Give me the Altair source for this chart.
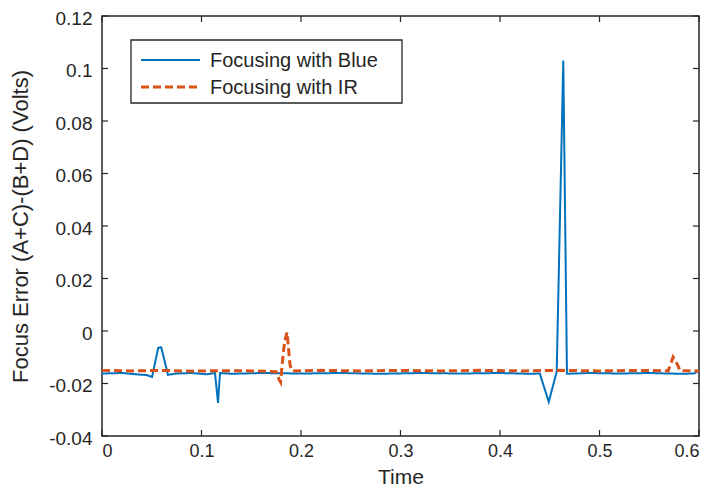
import altair as alt
import pandas as pd

blue_t = [0.0, 0.02, 0.035, 0.045, 0.0503, 0.0565, 0.0595, 0.0633, 0.0663, 0.075, 0.09, 0.105,
          0.1136, 0.1166, 0.1186, 0.13, 0.16, 0.2, 0.24, 0.28, 0.32, 0.36, 0.4, 0.43,
          0.440, 0.449, 0.457, 0.4636, 0.4673, 0.49, 0.52, 0.55, 0.58, 0.595, 0.6]
blue_v = [-0.0162, -0.0160, -0.0165, -0.0168, -0.0175, -0.0064, -0.0062, -0.0120, -0.0167, -0.0162,
          -0.0160, -0.0165, -0.0160, -0.0274, -0.0160, -0.0163, -0.0160, -0.0162, -0.0160, -0.0163,
          -0.0160, -0.0162, -0.0160, -0.0163, -0.0162, -0.0270, -0.0155, 0.1030, -0.0163, -0.0160,
          -0.0162, -0.0160, -0.0163, -0.0162, -0.0150]

ir_t = [0.0, 0.03, 0.06, 0.09, 0.12, 0.15, 0.175, 0.178, 0.1795, 0.181, 0.1835, 0.186, 0.1875,
        0.189, 0.191, 0.22, 0.26, 0.3, 0.34, 0.38, 0.42, 0.46, 0.5, 0.54, 0.569, 0.574, 0.578,
        0.581, 0.59, 0.6]
ir_v = [-0.0150, -0.0152, -0.0150, -0.0153, -0.0151, -0.0152, -0.0155, -0.0185, -0.0195, -0.0130,
        -0.0040, -0.0005, -0.0070, -0.0130, -0.0152, -0.0150, -0.0152, -0.0150, -0.0152, -0.0150,
        -0.0152, -0.0150, -0.0152, -0.0150, -0.0152, -0.0099, -0.0125, -0.0152, -0.0151, -0.0152]

series = ["Focusing with Blue", "Focusing with IR"]
colors = ["#0072BD", "#D95319"]
dashes = [[1, 0], [8, 4]]
widths = [2, 3]
x_ticks = [0, 0.1, 0.2, 0.3, 0.4, 0.5, 0.6]
y_ticks = [-0.04, -0.02, 0, 0.02, 0.04, 0.06, 0.08, 0.1, 0.12]

W, H = 597, 420
FONT = "Liberation Sans"
INK = "#262626"

df = pd.concat([
    pd.DataFrame({"t": blue_t, "v": blue_v, "s": series[0]}),
    pd.DataFrame({"t": ir_t, "v": ir_v, "s": series[1]}),
])

xs = alt.Scale(domain=[0, 0.6], nice=False, zero=False)
ys = alt.Scale(domain=[-0.04, 0.12], nice=False, zero=False)

lines = alt.Chart(df).mark_line().encode(
    x=alt.X("t:Q", scale=xs, title="Time",
            axis=alt.Axis(values=x_ticks, ticks=False, domain=False, grid=False,
                          labelPadding=6, labelFontSize=18, format="~g",
                          titleFontSize=21, titleY=51, titleBaseline="bottom")),
    y=alt.Y("v:Q", scale=ys, title="Focus Error (A+C)-(B+D) (Volts)",
            axis=alt.Axis(values=y_ticks, ticks=False, domain=False, grid=False,
                          labelPadding=10, titleX=-70, labelOffset=2,
                          labelExpr="replace(format(datum.value, '~g'), '\u2212', '-')")),
    color=alt.Color("s:N", scale=alt.Scale(domain=series, range=colors), legend=None),
    strokeDash=alt.StrokeDash("s:N", scale=alt.Scale(domain=series, range=dashes), legend=None),
    strokeWidth=alt.StrokeWidth("s:N", scale=alt.Scale(domain=series, range=widths), legend=None),
    order=alt.Order("s:N"),
)

xt = pd.DataFrame({"t": x_ticks})
yt = pd.DataFrame({"v": y_ticks})
tick_bottom = alt.Chart(xt).mark_rule(color=INK, strokeWidth=1.2).encode(
    x=alt.X("t:Q", scale=xs), y=alt.value(H), y2=alt.value(H - 6))
tick_top = alt.Chart(xt).mark_rule(color=INK, strokeWidth=1.2).encode(
    x=alt.X("t:Q", scale=xs), y=alt.value(0), y2=alt.value(6))
tick_left = alt.Chart(yt).mark_rule(color=INK, strokeWidth=1.2).encode(
    y=alt.Y("v:Q", scale=ys), x=alt.value(0), x2=alt.value(6))
tick_right = alt.Chart(yt).mark_rule(color=INK, strokeWidth=1.2).encode(
    y=alt.Y("v:Q", scale=ys), x=alt.value(W), x2=alt.value(W - 6))

# manual legend (box, line samples, labels)
box = alt.Chart(pd.DataFrame({"s": ["box"]})).mark_rect(
    fill="white", stroke=INK, strokeWidth=1.3).encode(
    x=alt.value(29), x2=alt.value(300), y=alt.value(24), y2=alt.value(87))
legend_layers = [box]
row_y = [44, 71]
for i, name in enumerate(series):
    d = pd.DataFrame({"s": [name]})
    legend_layers.append(
        alt.Chart(d).mark_rule(color=colors[i], strokeDash=dashes[i], strokeWidth=widths[i]).encode(
            x=alt.value(39), x2=alt.value(98), y=alt.value(row_y[i])))
    legend_layers.append(
        alt.Chart(d).mark_text(align="left", baseline="middle", font=FONT, fontSize=20,
                               color=INK).encode(
            text="s:N", x=alt.value(108), y=alt.value(row_y[i] + 1)))

chart = alt.layer(lines, tick_bottom, tick_top, tick_left, tick_right, *legend_layers).properties(
    width=W, height=H,
    autosize=alt.AutoSizeParams(type="none"),
    padding={"left": 94, "top": 8, "right": 8, "bottom": 51},
).configure_view(
    stroke=INK, strokeWidth=1.5
).configure_axis(
    labelFont=FONT, titleFont=FONT, labelFontSize=19, titleFontSize=22,
    labelColor=INK, titleColor=INK, titleFontWeight="normal",
)

chart.save("out.html", embed_options={"renderer": "svg", "actions": False})
